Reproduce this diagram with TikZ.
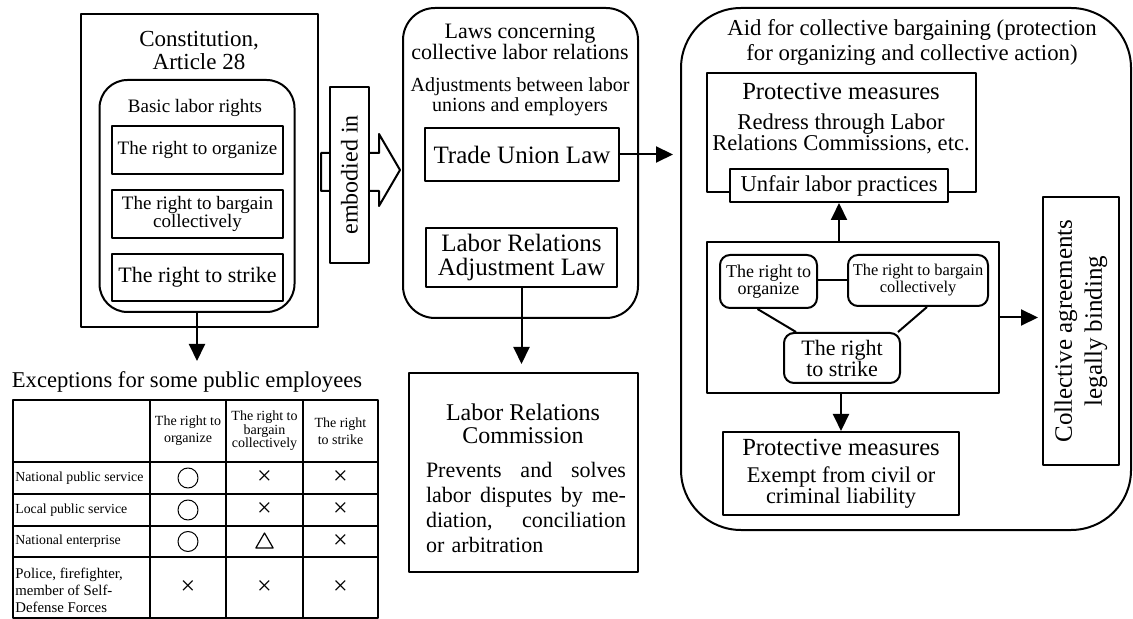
\documentclass[tikz,border=0pt]{standalone}
\usepackage{fontspec}
\setmainfont{Liberation Serif}
\usepackage{tikz}
\usetikzlibrary{arrows.meta,calc,shapes.geometric}
\newcommand\fsz[2]{\fontsize{#1}{#2}\selectfont}

\begin{document}
\begin{tikzpicture}[x=0.5pt,y=-0.5pt,>={Triangle[length=8.5pt,width=8pt]},line join=round,
  box/.style={draw,line width=1pt,inner sep=0pt,align=center},
  rbox/.style={box,rounded corners=#1},
  lbl/.style={inner sep=0pt,align=center},
  arr/.style={->,line width=1pt},
  cell/.style={inner sep=0pt,align=center,font=\fsz{7}{7}},
  xmark/.style={inner sep=0pt,font=\fsz{13}{13}}]
  \useasboundingbox (0,0) rectangle (1133,619);
  % constitution column
  \node[box,minimum width=118.5pt,minimum height=156.5pt] (const) at (199.5,170.5) {};
  \node[lbl,font=\fsz{11.5}{11.5}] (const-t) at (199,50.5) {Constitution,\\Article 28};
  \node[rbox=14pt,minimum width=97.5pt,minimum height=116pt] (basic) at (197,196) {};
  \node[lbl,font=\fsz{9.5}{9.5}] (basic-t) at (195,108) {Basic labor rights};
  \node[box,minimum width=85.5pt,minimum height=24pt,font=\fsz{9.5}{9.5}] (r1) at (197.5,150) {The right to organize};
  \node[box,minimum width=85.5pt,minimum height=24pt,font=\fsz{9.5}{9}] (r2) at (197.5,214) {The right to bargain\\collectively};
  \node[box,minimum width=85.5pt,minimum height=23.5pt,font=\fsz{11}{11}] (r3) at (197.5,277.5) {The right to strike};
  \coordinate (exctip) at (197,361);
  \draw[arr] (basic.south) -- (exctip);
  % embodied in
  \draw[line width=1pt] (321,153) -- (379,153) -- (379,134) -- (400,170) -- (379,206) -- (379,191) -- (321,191) -- cycle;
  \node[box,fill=white,minimum width=19.5pt,minimum height=88pt] (emb) at (349.5,175) {};
  \node[lbl,rotate=90,font=\fsz{12}{12}] (emb-t) at (emb.center) {embodied in};
  % laws column
  \node[rbox=16pt,minimum width=117.5pt,minimum height=155pt] (laws) at (520.5,163) {};
  \node[lbl,font=\fsz{11}{10.5}] (laws-t) at (520,42) {Laws concerning\\collective labor relations};
  \node[lbl,font=\fsz{10}{10}] (adj-t) at (520,97) {Adjustments between labor\\unions and employers};
  \node[box,minimum width=97pt,minimum height=26.5pt,font=\fsz{12.5}{12.5}] (tul) at (522,154.5) {Trade Union Law};
  \node[box,minimum width=95.5pt,minimum height=29.5pt,font=\fsz{12.5}{12}] (lral) at (521.5,257.5) {Labor Relations\\Adjustment Law};
  \node[box,minimum width=114.5pt,minimum height=99.5pt] (comm) at (523.5,472.5) {};
  \node[lbl,font=\fsz{12}{11.5}] (comm-t) at (523,424) {Labor Relations\\Commission};
  \node[lbl,text width=100pt,align=left,font=\fsz{11}{12.5}] (comm-p) at (526,507.5)
    {Prevents\hfill and\hfill solves\\labor\hfill disputes\hfill by\hfill me-\\diation,\hfill conciliation\\or arbitration};
  \draw[arr,shorten >=4pt] (lral.south) -- (lral.south |- comm.north);
  % aid for collective bargaining
  \node[rbox=30pt,minimum width=225pt,minimum height=261pt] (aid) at (906,269) {};
  \node[lbl,font=\fsz{11.4}{12.5}] (aid-t) at (912,42.5) {Aid for collective bargaining (protection\\for organizing and collective action)};
  \draw[arr,shorten >=3.5pt] (tul.east) -- (tul.east -| aid.west);
  \node[box,minimum width=134.5pt,minimum height=59.5pt] (pm1) at (841.5,132.5) {};
  \node[lbl,font=\fsz{12.3}{12}] (pm1-h) at (841,91) {Protective measures};
  \node[lbl,font=\fsz{11.3}{10.5}] (pm1-t) at (841,133.5) {Redress through Labor\\Relations Commissions, etc.};
  \node[box,fill=white,minimum width=109pt,minimum height=16.5pt,font=\fsz{11.3}{11}] (ulp) at (839,185.5) {Unfair labor practices};
  \node[box,minimum width=146pt,minimum height=75.5pt] (rights) at (853,317.5) {};
  \node[rbox=5pt,minimum width=48.5pt,minimum height=26.5pt,font=\fsz{9}{8.5}] (ro) at (768.5,281.5) {The right to\\organize};
  \node[rbox=5pt,minimum width=70pt,minimum height=25.5pt,font=\fsz{8.2}{8.5}] (rb) at (918,280.5) {The right to bargain\\collectively};
  \node[rbox=5pt,minimum width=58pt,minimum height=25pt,font=\fsz{11}{10.5}] (rs) at (842,358) {The right\\to strike};
  \draw[line width=1pt] (ro.east |- rb.west) -- (rb.west);
  \draw[line width=1pt] ($(ro.south)+(-11,0)$) -- ($(rs.north west)+(13,0)$);
  \draw[line width=1pt] ($(rb.south)+(9,0)$) -- ($(rs.north east)+(-3,0)$);
  \draw[arr] (ulp.south |- rights.north) -- (ulp.south);
  \node[box,minimum width=38pt,minimum height=134pt] (ca) at (1081,331) {};
  \node[lbl,rotate=90,font=\fsz{12.5}{15}] (ca-t) at (ca.center) {Collective agreements\\legally binding};
  \draw[arr,shorten >=2pt] (rights.east) -- (ca.west |- rights.east);
  \node[box,minimum width=118pt,minimum height=41.5pt] (pm2) at (841,473.5) {};
  \node[lbl,font=\fsz{12.3}{12}] (pm2-h) at (841,447) {Protective measures};
  \node[lbl,font=\fsz{11.2}{10.5}] (pm2-t) at (841,487.5) {Exempt from civil or\\criminal liability};
  \draw[arr] (pm2.north |- rights.south) -- (pm2.north);
  % exceptions table
  \node[lbl,font=\fsz{11.3}{11}] (exc) at (187,382) {Exceptions for some public employees};
  \draw[line width=1pt] (13,400) rectangle (378,618);
  \foreach \x in {150,226,303} \draw[line width=1pt] (\x,400) -- (\x,618);
  \foreach \y in {462,494,526,557} \draw[line width=1pt] (13,\y) -- (378,\y);
  \node[cell,font=\fsz{7}{8.5}] (h1) at (188,431) {The right to\\organize};
  \node[cell,font=\fsz{7}{6.8}] (h2) at (264.5,431) {The right to\\bargain\\collectively};
  \node[cell,font=\fsz{7}{8.5}] (h3) at (340.5,431) {The right\\to strike};
  \node[cell,anchor=west,font=\fsz{6.9}{8}] (w1) at (15,478) {National public service};
  \node[cell,anchor=west,font=\fsz{6.9}{8}] (w2) at (15,510) {Local public service};
  \node[cell,anchor=west,font=\fsz{6.9}{8}] (w3) at (15,541.5) {National enterprise};
  \node[cell,anchor=west,align=left,font=\fsz{7.4}{8.5}] (w4) at (15,590) {Police, firefighter,\\member of Self-\\Defense Forces};
  \foreach \y/\r in {478/1,510/2,541.5/3}
    \node[circle,draw,line width=0.5pt,minimum size=10pt,inner sep=0pt] (o-\r) at (188,\y) {};
  \foreach \x/\y/\r in {264.5/478/1,340.5/478/2,264.5/510/3,340.5/510/4,340.5/541.5/5,188/587.5/6,264.5/587.5/7,340.5/587.5/8}
    \node[xmark] (x-\r) at (\x,\y) {×};
  \node[regular polygon,regular polygon sides=3,draw,line width=0.6pt,minimum size=10pt,inner sep=0pt] (tri) at (264.5,543) {};
\end{tikzpicture}
\end{document}
